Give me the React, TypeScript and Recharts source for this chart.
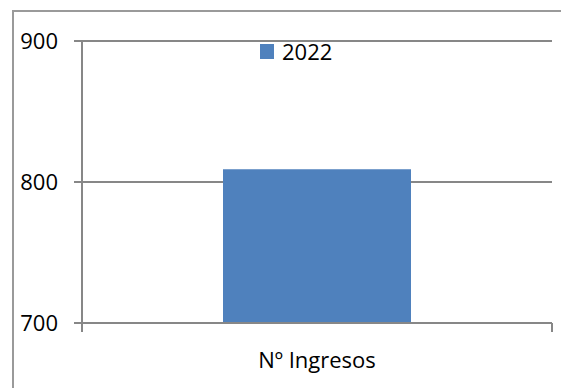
import React from "react";
import { BarChart, Bar, XAxis, YAxis, CartesianGrid, Legend } from "recharts";

const categories = ["Nº Ingresos"];
const values2022 = [809];
const yTicks = [700, 800, 900];

const data = categories.map((name, i) => ({ name, v2022: values2022[i] }));

const FONT = "'Open Sans', sans-serif";
const BLUE = "#4f81bd";
const AXIS = "#878787";

function LegendBox(props: any) {
  const item = (props.payload || [])[0];
  return (
    <div style={{ display: "flex", alignItems: "center", fontFamily: FONT, fontSize: 22, color: "#000", lineHeight: "30px" }}>
      <span style={{ display: "inline-block", width: 14, height: 15, background: item ? item.color : BLUE, marginRight: 8 }} />
      <span>{item ? item.value : "2022"}</span>
    </div>
  );
}

// Excel puts the category tick marks on the band edges, label in the middle
function CategoryTick(props: any) {
  const { x, y, payload, width, visibleTicksCount } = props;
  const half = payload && payload.offset > 0 ? payload.offset : width / (visibleTicksCount || 1) / 2;
  return (
    <g>
      <line x1={x - half} x2={x - half} y1={y} y2={y + 9} stroke={AXIS} strokeWidth={2} />
      <line x1={x + half} x2={x + half} y1={y} y2={y + 9} stroke={AXIS} strokeWidth={2} />
      <text x={x} y={y + 29} dy="0.71em" textAnchor="middle" fill="#000" fontFamily={FONT} fontSize={22}>
        {payload.value}
      </text>
    </g>
  );
}

export default function App() {
  return (
    <div style={{ position: "absolute", left: 0, top: 0, width: 561, height: 388, overflow: "hidden", background: "#fff" }}>
      <div
        style={{
          position: "absolute",
          left: 12,
          top: 10,
          width: 600,
          height: 420,
          borderLeft: "2px solid #9a9a9a",
          borderTop: "2px solid #9a9a9a",
        }}
      />
      <div style={{ position: "absolute", left: 0, top: 0 }}>
        <BarChart
          width={561}
          height={388}
          data={data}
          margin={{ top: 41, right: 9, left: 12, bottom: 15 }}
          barCategoryGap="30%"
        >
          <CartesianGrid horizontal vertical={false} stroke={AXIS} strokeWidth={2} />
          <XAxis
            dataKey="name"
            height={50}
            stroke={AXIS}
            strokeWidth={2}
            tickLine={false}
            tickSize={0}
            tickMargin={0}
            tick={CategoryTick}
          />
          <YAxis
            domain={[700, 900]}
            ticks={yTicks}
            width={70}
            stroke={AXIS}
            strokeWidth={2}
            tickSize={8}
            tickMargin={16}
            tick={{ fill: "#000", fontFamily: FONT, fontSize: 22 }}
            allowDataOverflow
          />
          <Legend
            layout="horizontal"
            verticalAlign="middle"
            align="center"
            content={LegendBox}
            wrapperStyle={{ top: 36, left: 260, width: 120, height: 30 }}
          />
          <Bar dataKey="v2022" name="2022" fill={BLUE} isAnimationActive={false} />
        </BarChart>
      </div>
    </div>
  );
}
